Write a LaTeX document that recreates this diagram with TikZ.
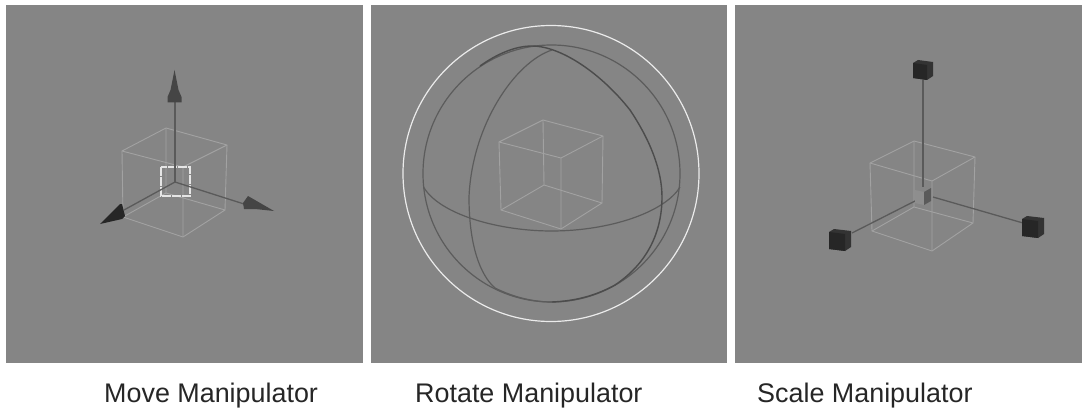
\documentclass[tikz,border=0pt]{standalone}
\usepackage{fontspec}
\setmainfont{Liberation Sans}
\definecolor{panelgray}{HTML}{858585}
\definecolor{framegray}{HTML}{A2A2A2}
\definecolor{axisgray}{HTML}{5A5A5A}
\definecolor{ringgray}{HTML}{5C5C5C}
\definecolor{headgray}{HTML}{454545}
\definecolor{handledark}{HTML}{333333}
\newcommand{\wirecube}[8]{%
	\draw[cubeline] #1 -- #2 -- #3 -- #4 -- cycle;
	\draw[cubeline] #5 -- #6 -- #7 -- #8 -- cycle;
	\draw[cubeline] #1 -- #5 #2 -- #6 #3 -- #7 #4 -- #8;
}
\newcommand{\handlecube}[3]{%
	\fill[handledark] (#1-#3,#2-#3+3) -- (#1-#3+5,#2-#3) -- (#1+#3,#2-#3+2) -- (#1+#3,#2+#3-4) -- (#1+#3-6,#2+#3) -- (#1-#3,#2+#3-2) -- cycle;
	\fill[handledark!75!black] (#1-#3,#2-#3+3) -- (#1+#3-6,#2-#3+5) -- (#1+#3-6,#2+#3) -- (#1-#3,#2+#3-2) -- cycle;
}
\begin{document}
\begin{tikzpicture}[x=1pt, y=-1pt, every node/.style={font=\fontsize{26.9}{30}\selectfont, inner sep=0pt, text=black!85}, panel/.style={fill=panelgray}, cubeline/.style={draw=framegray, line width=0.9pt, line join=round}, axisline/.style={draw=axisgray, line width=1.3pt}, ringline/.style={draw=ringgray, line width=1.2pt}, ringdark/.style={draw=black!70, line width=1.4pt}]
	\useasboundingbox (0,0) rectangle (1082,409);
	\fill[panel] (6,5) rectangle (362.5,362.5);
	\fill[panel] (370.5,5) rectangle (727,362.5);
	\fill[panel] (734.5,5) rectangle (1082,362.5);
	% move
	\begin{scope}
		\wirecube{(166,128)}{(227,145)}{(183,167)}{(122,151)}{(166,193)}{(225,210)}{(183,237)}{(123,217)}
		\coordinate (moveorigin) at (175,182);
		\coordinate (moveup) at (175,102);
		\coordinate (moveright) at (244,204);
		\coordinate (moveleft) at (124,210);
		\draw[white!90!black, line width=1.3pt, dash pattern=on 9pt off 1pt] (161,167) rectangle (190,196);
		\draw[axisline] (moveorigin) -- (moveup);
		\draw[axisline] (moveorigin) -- (moveright);
		\draw[axisline] (moveorigin) -- (moveleft);
		\fill[headgray] (174.5,70) -- (176.5,80) -- (178.5,90) -- (181.5,97) -- (181.5,102.5) -- (167.5,102.5) -- (167.5,97) -- (170.5,90) -- (172.5,80) -- cycle;
		\fill[headgray] (274,211) -- (248,196) -- (243,203) -- (244,209) -- (255,209) -- cycle;
		\fill[black!85] (100,224) -- (120,204) -- (122,204) -- (125,216) -- (122,219) -- cycle;
	\end{scope}
	% rotate
	\begin{scope}
		\wirecube{(543,120)}{(603,136)}{(561,158)}{(499,142)}{(544,185)}{(602,203)}{(561,229)}{(501,210)}
		\draw[white!92!black, line width=1.2pt] (551,173.5) circle (148);
		\draw[ringline] (551.5,173.5) circle (128.5);
		\draw[ringline] (423.5,187) .. controls (440,215) and (500,231) .. (551.5,231) .. controls (610,231) and (665,212) .. (680,187);
		\draw[ringline] (552,50) .. controls (515,62) and (472,125) .. (469,197) .. controls (469,245) and (480,275) .. (495,288) .. controls (515,298) and (535,302) .. (552,302);
		\draw[ringdark] (480,66) .. controls (497,54) and (515,46) .. (532,46) .. controls (560,46) and (600,72) .. (630,110) .. controls (650,140) and (662,170) .. (662,197) .. controls (662,235) and (645,265) .. (615,285) .. controls (595,296) and (575,301) .. (552,302);
	\end{scope}
	% scale
	\begin{scope}
		\wirecube{(914,141)}{(975,157)}{(932,181)}{(870,163)}{(914,207)}{(973,223)}{(932,251)}{(872,231)}
		\coordinate (scaleup) at (923,80);
		\coordinate (scalecentre) at (923,187);
		\coordinate (scaleright) at (1023,223);
		\coordinate (scaleinner) at (933,197);
		\coordinate (scaleleft) at (852,233);
		\coordinate (scalestart) at (917,200);
		\draw[axisline] (scaleup) -- (scalecentre);
		\draw[axisline] (scaleinner) -- (scaleright);
		\draw[axisline] (scalestart) -- (scaleleft);
		\fill[black!8!panelgray!85!white] (915,190) -- (924,192) -- (924,205) -- (915,203) -- cycle;
		\fill[axisgray] (924,192) -- (931,188) -- (931,201) -- (924,205) -- cycle;
		\handlecube{923}{70}{10}
		\handlecube{1033}{227}{11}
		\handlecube{840}{240}{11}
	\end{scope}
	\node[anchor=base west] (movelabel) at (104,402) {Move Manipulator};
	\node[anchor=base west] (rotatelabel) at (415,402) {Rotate Manipulator};
	\node[anchor=base west] (scalelabel) at (757,402) {Scale Manipulator};
\end{tikzpicture}
\end{document}
